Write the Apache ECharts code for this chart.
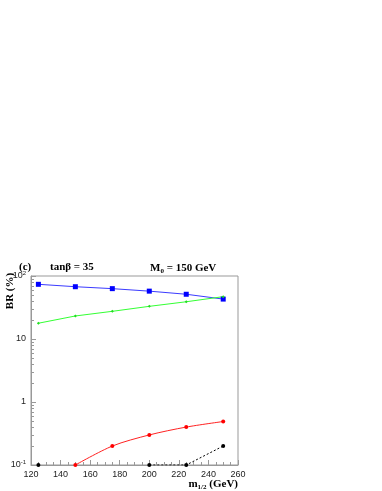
<!DOCTYPE html>
<html>
<head>
<meta charset="utf-8">
<script src="https://cdn.jsdelivr.net/npm/echarts@6/dist/echarts.min.js"></script>
<style>
  html, body { margin: 0; padding: 0; background: #fff; }
  #chart { width: 382px; height: 491px; }
</style>
</head>
<body>
<div id="chart"></div>
<script>
// m_1/2 points (GeV)
var m12 = [125, 150, 175, 200, 225, 250];
// BR (%) per channel
var blueBR = [73.8, 67.6, 63, 57.5, 51.3, 43];
var greenBR = [17.8, 23.2, 27.5, 33, 39, 47];
var redBR = [null, 0.1, 0.2, 0.3, 0.4, 0.49];
var blackBR = [0.1, null, null, 0.1, 0.1, 0.2];
var xTicks = [120, 140, 160, 180, 200, 220, 240, 260];

var axisGrey = "#999";
var serif = "Liberation Serif";
var sans = "Liberation Sans";

function pairs(ys) {
  return m12.map(function (x, i) { return [x, ys[i]]; });
}

function yLabel(v) {
  if (Math.abs(v - 100) < 1e-6) return "{b|10}{s|2}";
  if (Math.abs(v - 0.1) < 1e-9) return "{b|10}{s|-1}";
  return "{b|" + Math.round(v) + "}";
}

var chart = echarts.init(document.getElementById("chart"));
chart.setOption({
  animation: false,
  backgroundColor: "#fff",
  grid: {
    left: 31, right: 144, top: 276, bottom: 26,
    show: true, borderColor: axisGrey, borderWidth: 1
  },
  title: [
    { text: "(c)", left: 14, top: 257, textStyle: { fontFamily: serif, fontWeight: "bold", fontSize: 11, color: "#000" } },
    { text: "tanβ = 35", left: 45, top: 257, textStyle: { fontFamily: serif, fontWeight: "bold", fontSize: 11, color: "#000" } },
    { text: "M{s|0} = 150 GeV", left: 145, top: 257,
      textStyle: { fontFamily: serif, fontWeight: "bold", fontSize: 11, color: "#000",
        rich: { s: { fontFamily: serif, fontWeight: "bold", fontSize: 7, padding: [6, 0, 0, 0] } } } }
  ],
  graphic: [
    { type: "text", x: 10, y: 291, rotation: Math.PI / 2,
      style: { text: "BR (%)", font: "bold 11px " + serif, fill: "#000",
        align: "center", verticalAlign: "middle" } },
    { type: "text", right: 144, top: 479,
      style: { text: "m{s|1/2} (GeV)", font: "bold 11px " + serif, fill: "#000",
        rich: { s: { font: "bold 7px " + serif, padding: [6, 0, 0, 0] } } } }
  ],
  xAxis: {
    type: "value", min: 120, max: 260, interval: 20,
    axisLine: { onZero: false, lineStyle: { color: axisGrey } },
    axisTick: { inside: true, length: 5, lineStyle: { color: axisGrey } },
    minorTick: { show: true, splitNumber: 4, length: 3, lineStyle: { color: axisGrey } },
    splitLine: { show: false },
    axisLabel: { color: "#222", fontFamily: sans, fontSize: 9, margin: 5,
      customValues: xTicks }
  },
  yAxis: {
    type: "log", logBase: 10, min: 0.1, max: 100,
    axisLine: { show: true, lineStyle: { color: axisGrey } },
    axisTick: { inside: true, length: 5, lineStyle: { color: axisGrey } },
    minorTick: { show: true, splitNumber: 9, length: 3, lineStyle: { color: axisGrey } },
    splitLine: { show: false },
    axisLabel: {
      margin: 5, formatter: yLabel,
      rich: {
        b: { fontFamily: sans, fontSize: 9, color: "#222" },
        s: { fontFamily: sans, fontSize: 6, color: "#222", padding: [0, 0, 6, 0] }
      }
    }
  },
  series: [
    { type: "line", data: pairs(blueBR), symbol: "rect", symbolSize: 5,
      lineStyle: { color: "#3b3bff", width: 1 }, itemStyle: { color: "#0000ff" } },
    { type: "line", data: pairs(greenBR), symbol: "diamond", symbolSize: 3,
      lineStyle: { color: "#33ff33", width: 1 }, itemStyle: { color: "#22dd22" } },
    { type: "line", data: pairs(redBR), symbol: "circle", symbolSize: 4, smooth: 0.3,
      lineStyle: { color: "#ff2222", width: 1 }, itemStyle: { color: "#ff0000" } },
    { type: "line", data: pairs(blackBR), symbol: "circle", symbolSize: 4,
      lineStyle: { color: "#000", width: 1, type: [2, 2] }, itemStyle: { color: "#000" } }
  ]
});
</script>
</body>
</html>
